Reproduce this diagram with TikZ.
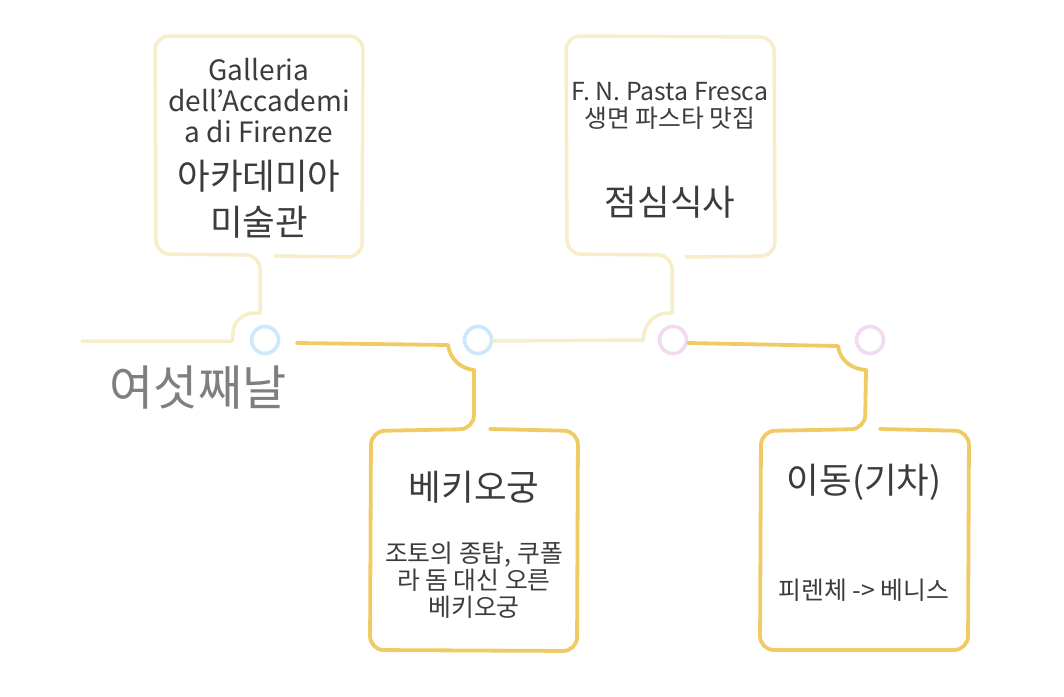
\documentclass[tikz,border=0pt]{standalone}
\usepackage{fontspec}
\setmainfont{Noto Sans CJK KR}
\definecolor{lightY}{HTML}{F8EDC9}
\definecolor{goldY}{HTML}{F0CA62}
\definecolor{blueC}{HTML}{CDE8FA}
\definecolor{pinkC}{HTML}{F3DAF3}
\definecolor{txt}{HTML}{3C3C3C}
\definecolor{dayg}{HTML}{7F7F7F}
\begin{document}
\begin{tikzpicture}[x=1pt,y=-1pt,
  light/.style={draw=lightY,line width=3.5pt,line cap=round,line join=round},
  gold/.style={draw=goldY,line width=3.8pt,line cap=round,line join=round},
  boxr/.style={rounded corners=14pt},
  dot/.style={circle,line width=3.6pt,minimum size=27pt,inner sep=0pt,fill=white},
  bigt/.style={text=txt,font=\fontsize{35.5}{46}\selectfont,align=center,inner sep=0pt},
  midt/.style={text=txt,font=\fontsize{28}{31}\selectfont,align=center,inner sep=0pt},
  smallt/.style={text=txt,font=\fontsize{24.8}{27}\selectfont,align=center,inner sep=0pt}]
\useasboundingbox (0,0) rectangle (1064,696);
\fill[white] (0,0) rectangle (1064,696);

% timeline dots
\node[dot,draw=blueC] (d1) at (265,340) {};
\node[dot,draw=blueC] (d2) at (478,340) {};
\node[dot,draw=pinkC] (d3) at (673,340) {};
\node[dot,draw=pinkC] (d4) at (870,340) {};

% segment 1 (light) with box 1
\coordinate (l1) at (82,341);
\draw[light,boxr] (275,256) -- (362,257) -- (363,36) -- (155,36) -- (156,254) -- (260,255) -- (260,313);
\draw[light] (260,313) -- (252,313) .. controls (240,315) and (233,323) .. (233,334) -- (232,341) -- (l1);

% segment 2 (gold) with box 2
\draw[gold] (297,343) -- (448,345) .. controls (450,360) and (462,369) .. (474,370);
\draw[gold,boxr] (474,370) -- (474,429) -- (371,431) -- (370,650) -- (577,651) -- (578,431) -- (490,429);

% segment 3 (light) with box 3
\draw[light] (493,341) -- (643,340) -- (644,334) .. controls (646,322) and (656,314) .. (666,313) -- (672,313);
\draw[light,boxr] (672,313) -- (672,255) -- (567,254) -- (566,36) -- (774,37) -- (775,256) -- (686,257);

% segment 4 (gold) with box 4
\draw[gold] (688,343) -- (838,346) .. controls (840,361) and (852,369) .. (866,370);
\draw[gold,boxr] (866,370) -- (865,429) -- (761,431) -- (760,650) -- (968,650) -- (969,431) -- (880,429);

% day label
\node[text=dayg,font=\fontsize{48}{54}\selectfont,inner sep=0pt] (day) at (198,388) {여섯째날};

% box 1 text
\node[midt] (b1a) at (259,101) {Galleria\\dell’Accademi\\a di Firenze};
\node[bigt] (b1b) at (259,199) {아카데미아\\미술관};

% box 3 text
\node[smallt] (b3a) at (670,106) {F. N. Pasta Fresca\\생면 파스타 맛집};
\node[bigt] (b3b) at (670,202) {점심식사};

% box 2 text
\node[bigt] (b2a) at (474,487) {베키오궁};
\node[smallt] (b2b) at (474,580) {조토의 종탑, 쿠폴\\라 돔 대신 오른\\베키오궁};

% box 4 text
\node[bigt] (b4a) at (864,482) {이동(기차)};
\node[smallt] (b4b) at (864,590) {피렌체 -> 베니스};
\end{tikzpicture}
\end{document}
